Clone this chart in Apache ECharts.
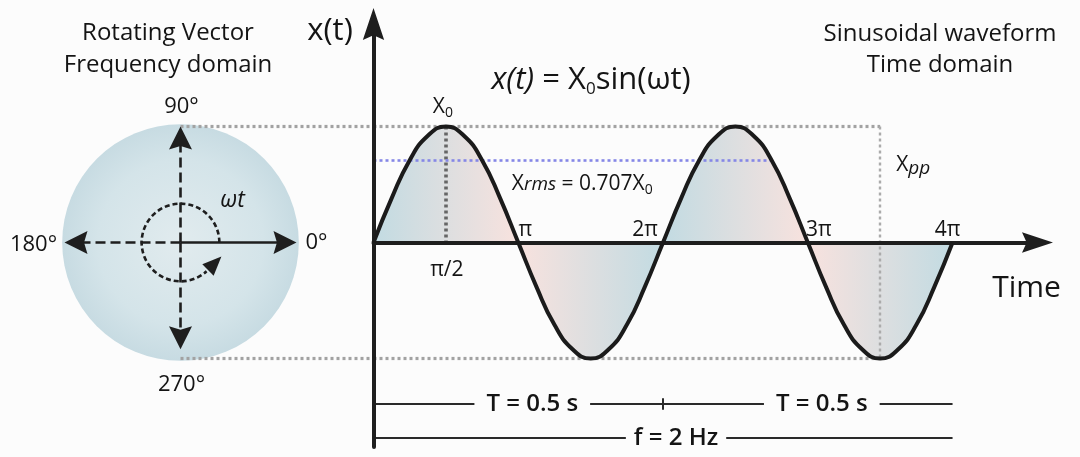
<!DOCTYPE html>
<html><head><meta charset="utf-8">
<script src="https://cdn.jsdelivr.net/npm/echarts@6/dist/echarts.min.js"></script>
<style>html,body{margin:0;padding:0;background:#fcfcfc}#c{width:1080px;height:457px}</style>
</head><body><div id="c"></div>
<script>
const PI = Math.PI;
// ---- data ----
// sample phases of the drawn waveform, in multiples of π
const WAVE_PHASE = [0,0.125,0.25,0.375,0.5,0.625,0.75,0.875,1,1.125,1.25,1.375,1.5,1.625,1.75,1.875,2,2.125,2.25,2.375,2.5,2.625,2.75,2.875,3,3.125,3.25,3.375,3.5,3.625,3.75,3.875,4];
// waveform value at those phases, in units of X0
const WAVE_VALUE = [0,0.38,0.71,0.92,1,0.92,0.71,0.38,0,-0.38,-0.71,-0.92,-1,-0.92,-0.71,-0.38,0,0.38,0.71,0.92,1,0.92,0.71,0.38,0,-0.38,-0.71,-0.92,-1,-0.92,-0.71,-0.38,0];
const PEAK = 1;                 // X0
const RMS = 0.707;              // Xrms = 0.707 X0
const RMS_END_PHASE = 2.75;     // blue rms guide ends here (×π)
const XPP_PHASE = 3.5;          // peak-to-peak marker (×π)
const TICK_PHASE = [0.5, 1, 2, 3, 4];
const TICK_TEXT = ['π/2', 'π', '2π', '3π', '4π'];
const PERIODS = [[0, 2], [2, 4]];   // ×π
const PERIOD_TEXT = ['T = 0.5 s', 'T = 0.5 s'];
const FREQ_SPAN = [0, 4];           // ×π
const FREQ_TEXT = 'f = 2 Hz';
const CIRCLE_R = 1.02;
const ANGLE_DEG = [0, 90, 180, 270];
const ANGLE_TEXT = ['0°', '90°', '180°', '270°'];
const ANGLE_ARROW_LEN = [1, 1, 1, 0.92];
const INNER_R = 0.335;

// ---- layout ----
const W = 1080, H = 457;
const ORIGIN_X = 373.5, ZERO_Y = 242.5, TOP = 24, BOTTOM_PX = 447, RIGHT_PX = 1037.5, CIRCLE_CX = 180.5;
const AMP_PX = 116, RAD_PX = 46.08;
const Y_MAX = (ZERO_Y - TOP) / AMP_PX, Y_MIN = -(BOTTOM_PX - ZERO_Y) / AMP_PX;
const X_MAX = (RIGHT_PX - ORIGIN_X) / RAD_PX;
const CX_MIN = -CIRCLE_CX / AMP_PX, CX_MAX = (ORIGIN_X - CIRCLE_CX) / AMP_PX;
const DIM_Y = [(ZERO_Y - 404) / AMP_PX, (ZERO_Y - 438) / AMP_PX];

const BG = '#fcfcfc', INK = '#1e1e1e', TXT = '#141414';
const FONT = "'Open Sans', 'DejaVu Sans', sans-serif";
const ARROW = 'path://M10,0L20,30L10,25.5L0,30Z';

const waveData = WAVE_PHASE.map((p, i) => [p * PI, WAVE_VALUE[i]]);

const GREY_DOT = {color: '#a2a2a2', width: 3.2, type: [3, 3], cap: 'butt', opacity: 1};

// circle arrows (stop half an arrowhead short so its tip lands on the radius)
const HEAD = 23 / AMP_PX;
const circleArrows = ANGLE_DEG.map((d, i) => {
  const a = d * PI / 180, L = ANGLE_ARROW_LEN[i] - HEAD / 2;
  return {coords: [[0, 0], [L * Math.cos(a), L * Math.sin(a)]],
    lineStyle: {color: INK, width: 2.6, type: i === 0 ? 'solid' : [10, 5], opacity: 1}};
});

function lab(value, text, offset, extra) {
  return Object.assign({value: value, label: Object.assign({formatter: text, offset: offset}, extra || {})});
}
const baseLabel = {show: true, position: 'inside', color: TXT, fontFamily: FONT, fontSize: 21, textBorderWidth: 0, opacity: 1};
const rich = {
  a: {fontFamily: FONT, fontSize: 21, color: TXT, lineHeight: 26},
  i: {fontFamily: FONT, fontSize: 19, fontStyle: 'italic', color: TXT, lineHeight: 26},
  s: {fontFamily: FONT, fontSize: 14, color: TXT, lineHeight: 14, verticalAlign: 'bottom'},
  p: {fontFamily: FONT, fontSize: 19, fontStyle: 'italic', color: TXT, lineHeight: 22, verticalAlign: 'bottom'}
};

const tickOffsets = [[1, 28], [7, -12], [-18, -12], [11, -12], [-5, -12]];
const waveLabels = TICK_PHASE.map((p, i) => lab([p * PI, 0], TICK_TEXT[i], tickOffsets[i]));
waveLabels.push(lab([PI / 2, PEAK], '{a|X}{s|0}', [-3, -19]));
waveLabels.push(lab([PI, RMS], '{a|X}{i|rms}{a| = 0.707X}{s|0}', [64, 24]));
waveLabels.push(lab([XPP_PHASE * PI, PEAK / 2], '{a|X}{p|pp}', [33, -19]));
waveLabels.push(lab([X_MAX, 0], 'Time', [-11, 46], {fontSize: 30}));

const dimLabel = {fontSize: 24, fontWeight: 600, color: TXT, backgroundColor: BG, padding: [0, 12]};
PERIODS.forEach((p, i) => waveLabels.push(lab([(p[0] + p[1]) / 2 * PI, DIM_Y[0]], PERIOD_TEXT[i], [14, 0], dimLabel)));
waveLabels.push(lab([(FREQ_SPAN[0] + FREQ_SPAN[1]) / 2 * PI, DIM_Y[1]], FREQ_TEXT, [13, 0], Object.assign({}, dimLabel, {padding: [0, 8]})));

const angleOffsets = [[20, 0], [1, -20], [-31, 2], [1, 26]];
const circleLabels = ANGLE_DEG.map((d, i) => {
  const a = d * PI / 180;
  return lab([Math.cos(a), Math.sin(a)], ANGLE_TEXT[i], angleOffsets[i], {fontSize: 22});
});
circleLabels.push(lab([0, 0], 'ωt', [52, -42], {fontSize: 23, fontStyle: 'italic'}));

const option = {
  backgroundColor: BG,
  animation: false,
  grid: [
    {left: ORIGIN_X, right: W - RIGHT_PX, top: TOP, bottom: H - BOTTOM_PX, containLabel: false},
    {left: 0, right: W - ORIGIN_X, top: TOP, bottom: H - BOTTOM_PX, containLabel: false}
  ],
  xAxis: [
    {type: 'value', gridIndex: 0, min: 0, max: X_MAX, z: 5,
      axisLine: {show: true, onZero: true, symbol: ['none', ARROW], symbolSize: [28, 31], lineStyle: {color: INK, width: 4}},
      axisTick: {show: false}, axisLabel: {show: false}, splitLine: {show: false}},
    {type: 'value', gridIndex: 1, min: CX_MIN, max: CX_MAX, show: false, splitLine: {show: false}}
  ],
  yAxis: [
    {type: 'value', gridIndex: 0, min: Y_MIN, max: Y_MAX, z: 5,
      axisLine: {show: true, onZero: false, symbol: ['none', ARROW], symbolSize: [26, 32], lineStyle: {color: INK, width: 4}},
      axisTick: {show: false}, axisLabel: {show: false}, splitLine: {show: false}},
    {type: 'value', gridIndex: 1, min: Y_MIN, max: Y_MAX, show: false, splitLine: {show: false}}
  ],
  graphic: [
    {type: 'text', x: 168, y: 49, style: {text: 'Rotating Vector\nFrequency domain', font: '24px ' + FONT, fill: TXT, align: 'center', verticalAlign: 'middle', lineHeight: 32}},
    {type: 'text', x: 940, y: 50, style: {text: 'Sinusoidal waveform\nTime domain', font: '24px ' + FONT, fill: TXT, align: 'center', verticalAlign: 'middle', lineHeight: 31}},
    {type: 'text', x: 330, y: 31, style: {text: 'x(t)', font: '31px ' + FONT, fill: TXT, align: 'center', verticalAlign: 'middle'}},
    {type: 'text', x: 591, y: 80, style: {text: '{i|x(t)}{a| = X}{s|0}{a|sin(ωt)}', align: 'center', verticalAlign: 'middle',
      rich: {
        a: {fontFamily: FONT, fontSize: 31, fill: TXT, lineHeight: 36},
        i: {fontFamily: FONT, fontSize: 31, fontStyle: 'italic', fill: TXT, lineHeight: 36},
        s: {fontFamily: FONT, fontSize: 17, fill: TXT, lineHeight: 17, verticalAlign: 'bottom'}
      }}}
  ],
  series: [
    // rotating-vector circle
    {type: 'custom', xAxisIndex: 1, yAxisIndex: 1, silent: true, z: 1, data: [[0, 0]],
      renderItem: function (params, api) {
        const c = api.coord([0, 0]);
        const r = api.size([0, CIRCLE_R])[1];
        return {type: 'circle', shape: {cx: c[0], cy: c[1], r: r},
          style: {fill: new echarts.graphic.RadialGradient(0.5, 0.5, 0.5, [
            {offset: 0, color: '#e1ebee'}, {offset: 0.7, color: '#d4e4e9'}, {offset: 1, color: '#c7dbe2'}])}};
      }},
    // inner rotation arc with arrowhead
    {type: 'custom', xAxisIndex: 1, yAxisIndex: 1, silent: true, z: 4, data: [[0, 0]],
      renderItem: function (params, api) {
        const c = api.coord([0, 0]);
        const r = api.size([0, INNER_R])[1];
        const th = -45 * PI / 180;                       // math angle of arrow base
        const bx = c[0] + r * Math.cos(th), by = c[1] - r * Math.sin(th);
        const tx = -Math.sin(th), ty = -Math.cos(th);     // CCW tangent (pixel space)
        const rx = Math.cos(th), ry = -Math.sin(th);      // radial (pixel space)
        const L = 19, Wd = 16;
        const tip = [bx + L * tx, by + L * ty];
        const p1 = [bx + Wd / 2 * rx, by + Wd / 2 * ry], p2 = [bx - Wd / 2 * rx, by - Wd / 2 * ry];
        return {type: 'group', children: [
          {type: 'arc', shape: {cx: c[0], cy: c[1], r: r, startAngle: 0, endAngle: -th + 0.05, clockwise: false},
            style: {stroke: INK, fill: 'none', lineWidth: 2.6, lineDash: [5, 3]}},
          {type: 'polygon', shape: {points: [tip, p1, p2]}, style: {fill: INK}}
        ]};
      }},
    // circle axes arrows
    {type: 'lines', coordinateSystem: 'cartesian2d', xAxisIndex: 1, yAxisIndex: 1, z: 5, silent: true,
      symbol: ['none', ARROW], symbolSize: [24, 23], data: circleArrows},
    // dotted guides on circle side
    {type: 'lines', coordinateSystem: 'cartesian2d', xAxisIndex: 1, yAxisIndex: 1, z: 3, silent: true, symbol: 'none',
      data: [
        {coords: [[0, PEAK], [CX_MAX, PEAK]], lineStyle: GREY_DOT},
        {coords: [[0, -PEAK], [CX_MAX, -PEAK]], lineStyle: GREY_DOT}
      ]},
    // waveform fill
    {type: 'line', xAxisIndex: 0, yAxisIndex: 0, z: 1, silent: true, smooth: true, symbol: 'none', data: waveData,
      lineStyle: {width: 0, opacity: 0},
      areaStyle: {opacity: 1, color: new echarts.graphic.LinearGradient(0, 0, 1, 0, [
        {offset: 0, color: '#c2dbe2'}, {offset: 0.25, color: '#f8e2de'}, {offset: 0.5, color: '#c2dbe2'},
        {offset: 0.75, color: '#f8e2de'}, {offset: 1, color: '#c2dbe2'}])}},
    // guides on wave side
    {type: 'lines', coordinateSystem: 'cartesian2d', xAxisIndex: 0, yAxisIndex: 0, z: 3, silent: true, symbol: 'none',
      data: [
        {coords: [[0, PEAK], [XPP_PHASE * PI, PEAK]], lineStyle: GREY_DOT},
        {coords: [[0, -PEAK], [XPP_PHASE * PI, -PEAK]], lineStyle: GREY_DOT},
        {coords: [[XPP_PHASE * PI, PEAK], [XPP_PHASE * PI, -PEAK]], lineStyle: {color: '#ababab', width: 2.4, type: [3, 3], opacity: 1}},
        {coords: [[PI / 2, PEAK], [PI / 2, 0]], lineStyle: {color: '#666', width: 3.6, type: [3, 3], opacity: 1}},
        {coords: [[0, RMS], [RMS_END_PHASE * PI, RMS]], lineStyle: {color: '#8587e6', width: 2.6, type: [3, 3], opacity: 1}},
        // period / frequency dimension lines
        {coords: [[PERIODS[0][0] * PI, DIM_Y[0]], [PERIODS[1][1] * PI, DIM_Y[0]]], lineStyle: {color: '#2a2a2a', width: 2, type: 'solid', opacity: 1}},
        {coords: [[PERIODS[0][1] * PI, DIM_Y[0] + 0.05], [PERIODS[0][1] * PI, DIM_Y[0] - 0.05]], lineStyle: {color: '#2a2a2a', width: 2, type: 'solid', opacity: 1}},
        {coords: [[FREQ_SPAN[0] * PI, DIM_Y[1]], [FREQ_SPAN[1] * PI, DIM_Y[1]]], lineStyle: {color: '#2a2a2a', width: 2, type: 'solid', opacity: 1}}
      ]},
    // waveform stroke
    {type: 'line', xAxisIndex: 0, yAxisIndex: 0, z: 6, silent: true, smooth: true, symbol: 'none', data: waveData,
      lineStyle: {color: '#1b1b1b', width: 4}},
    // wave-side text labels
    {type: 'scatter', xAxisIndex: 0, yAxisIndex: 0, z: 10, silent: true, symbolSize: 1,
      itemStyle: {color: 'rgba(0,0,0,0)'}, label: Object.assign({}, baseLabel, {rich: rich}), data: waveLabels},
    // circle-side text labels
    {type: 'scatter', xAxisIndex: 1, yAxisIndex: 1, z: 10, silent: true, symbolSize: 1,
      itemStyle: {color: 'rgba(0,0,0,0)'}, label: Object.assign({}, baseLabel, {rich: rich}), data: circleLabels}
  ]
};
const chart = echarts.init(document.getElementById('c'));
chart.setOption(option);
</script></body></html>
